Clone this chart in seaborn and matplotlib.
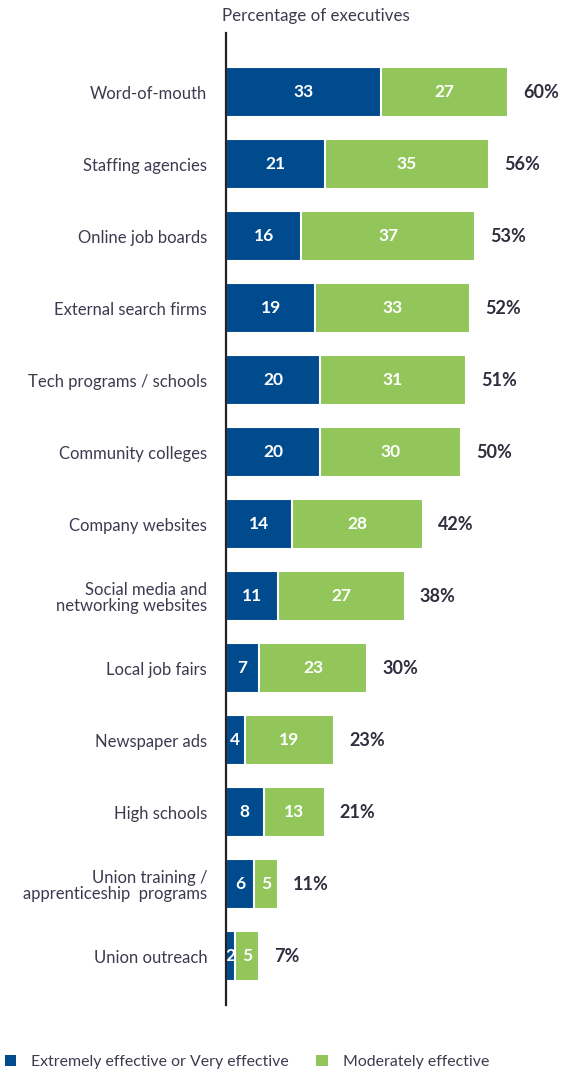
import matplotlib
matplotlib.use("Agg")
import matplotlib.pyplot as plt
from matplotlib.patches import Patch
import seaborn as sns
import pandas as pd

categories = [
    "Word-of-mouth", "Staffing agencies", "Online job boards", "External search firms",
    "Tech programs / schools", "Community colleges", "Company websites",
    "Social media and\nnetworking websites", "Local job fairs", "Newspaper ads",
    "High schools", "Union training /\napprenticeship  programs", "Union outreach",
]
very_effective = [33, 21, 16, 19, 20, 20, 14, 11, 7, 4, 8, 6, 2]
moderately_effective = [27, 35, 37, 33, 31, 30, 28, 27, 23, 19, 13, 5, 5]
totals = [60, 56, 53, 52, 51, 50, 42, 38, 30, 23, 21, 11, 7]

dark_blue = "#004B8D"
green = "#92C65A"
text_col = "#3B3B4F"

sns.set_theme(style="white")
plt.rcParams["font.family"] = ["Lato", "DejaVu Sans"]

df = pd.DataFrame({
    "category": categories,
    "very": very_effective,
    "moderate": moderately_effective,
    "total": [v + m for v, m in zip(very_effective, moderately_effective)],
})

fig = plt.figure(figsize=(5.66, 10.78), dpi=100)
ax = fig.add_axes([226 / 566, 1 - 1005 / 1078, (555 - 226) / 566, (1005 - 33) / 1078])

# Stacked bars: full length in green, the first segment in blue on top
sns.barplot(data=df, y="category", x="total", color=green, orient="h",
            width=0.69, edgecolor="white", linewidth=1.5, ax=ax, saturation=1)
sns.barplot(data=df, y="category", x="very", color=dark_blue, orient="h",
            width=0.69, edgecolor="white", linewidth=1.5, ax=ax, saturation=1)

ax.set_xlim(0, 70)
ax.set_ylim(12.68, -0.82)
ax.set_xlabel("")
ax.set_ylabel("")
ax.set_xticks([])
ax.tick_params(axis="y", length=0, pad=13.5, labelsize=12, labelcolor=text_col)
for lbl in ax.get_yticklabels():
    lbl.set_multialignment("right")
    lbl.set_linespacing(1.05)

for side in ["top", "right", "bottom"]:
    ax.spines[side].set_visible(False)
ax.spines["left"].set_color("#222222")
ax.spines["left"].set_linewidth(1.6)
ax.spines["left"].set_zorder(5)

for i, (v, m, t) in enumerate(zip(very_effective, moderately_effective, totals)):
    ax.text(v / 2, i, str(v), ha="center", va="center", color="white",
            fontsize=12.5, fontweight="bold")
    ax.text(v + m / 2, i, str(m), ha="center", va="center", color="white",
            fontsize=12.5, fontweight="bold")
    ax.text(v + m + 3.2, i, f"{t}%", ha="left", va="center", color="#2E2E3E",
            fontsize=13, fontweight="bold")

fig.text(222 / 566, 1 - 16 / 1078, "Percentage of executives", ha="left", va="center",
         fontsize=12.2, color=text_col)

handles = [Patch(facecolor=dark_blue, edgecolor="none"),
           Patch(facecolor=green, edgecolor="none")]
fig.legend(handles, ["Extremely effective or Very effective", "Moderately effective"],
           loc="center left", bbox_to_anchor=(5 / 566, 1 - 1062 / 1078), ncol=2,
           frameon=False, fontsize=11.4, handlelength=0.72, handleheight=0.72,
           handletextpad=0.95, columnspacing=1.7, labelcolor=text_col,
           borderaxespad=0, borderpad=0)

fig.savefig("out.png", dpi=100)
